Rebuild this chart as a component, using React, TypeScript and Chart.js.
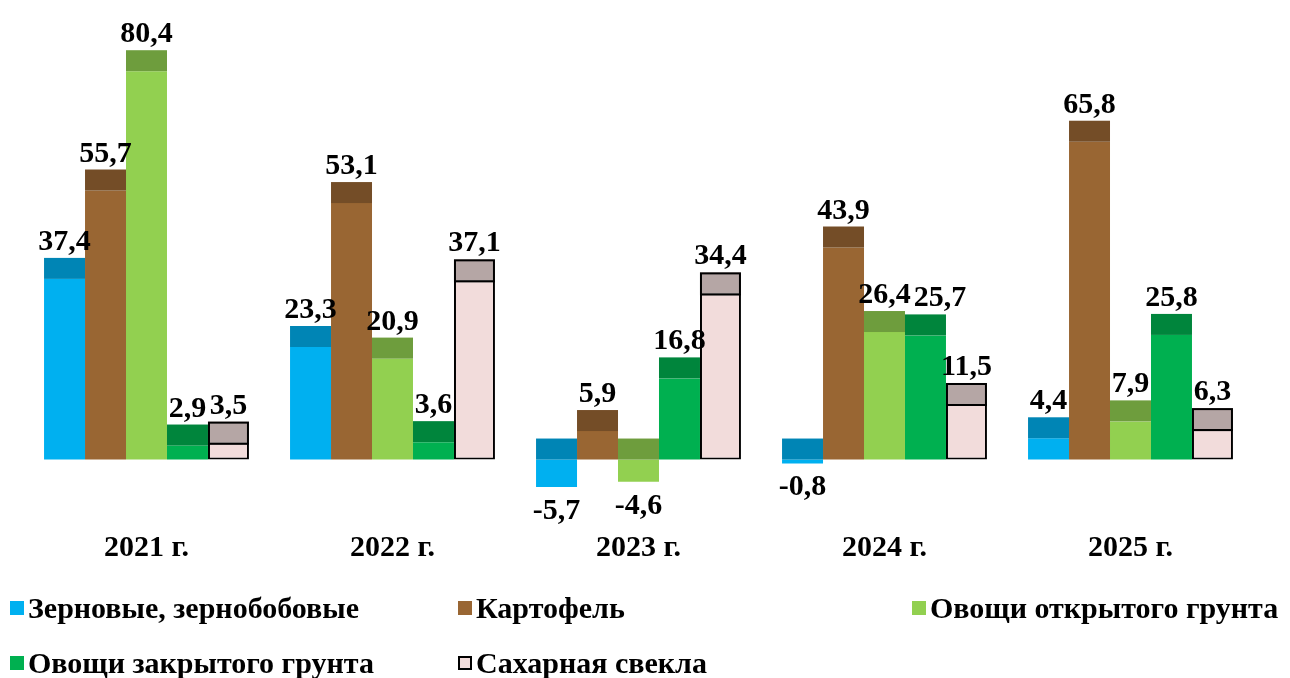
import React, { useEffect, useRef } from "react";
import { Chart, registerables } from "chart.js";

Chart.register(...registerables);

// ---- data ----
const categories = ["2021 г.", "2022 г.", "2023 г.", "2024 г.", "2025 г."];
const seriesNames = [
  "Зерновые, зернобобовые",
  "Картофель",
  "Овощи открытого грунта",
  "Овощи закрытого грунта",
  "Сахарная свекла",
];
const grain = [37.4, 23.3, -5.7, -0.8, 4.4];
const potato = [55.7, 53.1, 5.9, 43.9, 65.8];
const openVeg = [80.4, 20.9, -4.6, 26.4, 7.9];
const closedVeg = [2.9, 3.6, 16.8, 25.7, 25.8];
const sugarBeet = [3.5, 37.1, 34.4, 11.5, 6.3];

// ---- styles ----
const fills = ["#00B0F0", "#996633", "#92D050", "#00B050", "#F2DCDB"];
const capFills = ["#0085B5", "#744D27", "#6E9D3D", "#00853C", "#B5A6A5"];
const outlined = [false, false, false, false, true];
const CAP_PX = 21;
const FONT_FAMILY = "'Liberation Serif', 'Times New Roman', serif";
const LABEL_FONT = `bold 30px ${FONT_FAMILY}`;

const fmt = (v: number) => v.toFixed(1).replace(".", ",");

const capPlugin = {
  id: "capsAndLabels",
  afterDatasetsDraw(chart: any) {
    const ctx = chart.ctx as CanvasRenderingContext2D;
    const nDs = chart.data.datasets.length;
    // caps
    for (let di = 0; di < nDs; di++) {
      const meta = chart.getDatasetMeta(di);
      meta.data.forEach((el: any) => {
        const { x, y, base, width } = el.getProps(["x", "y", "base", "width"], true);
        const top = Math.min(y, base);
        const left = x - width / 2;
        ctx.save();
        ctx.fillStyle = capFills[di];
        ctx.fillRect(left, top - CAP_PX, width, CAP_PX);
        if (outlined[di]) {
          ctx.strokeStyle = "#000";
          ctx.lineWidth = 2;
          ctx.strokeRect(left + 1, top - CAP_PX + 1, width - 2, CAP_PX);
        }
        ctx.restore();
      });
    }
    // labels with simple collision avoidance
    ctx.save();
    ctx.font = LABEL_FONT;
    ctx.fillStyle = "#000";
    ctx.textAlign = "center";
    ctx.textBaseline = "alphabetic";
    const nCat = chart.data.labels.length;
    for (let ci = 0; ci < nCat; ci++) {
      const boxes: { x1: number; x2: number; y1: number; y2: number }[] = [];
      for (let di = 0; di < nDs; di++) {
        const el: any = chart.getDatasetMeta(di).data[ci];
        const v = chart.data.datasets[di].data[ci] as number;
        const { x, y, base } = el.getProps(["x", "y", "base"], true);
        const text = fmt(v);
        const w = ctx.measureText(text).width;
        let cx = x;
        const baseline = v >= 0 ? Math.min(y, base) - CAP_PX - 8 : Math.max(y, base) + 32;
        const y1 = baseline - 21;
        const y2 = baseline + 5;
        let moved = true;
        while (moved) {
          moved = false;
          for (const b of boxes) {
            const x1 = cx - w / 2;
            const x2 = cx + w / 2;
            if (x1 < b.x2 && x2 > b.x1 && y1 < b.y2 && y2 > b.y1) {
              cx = b.x2 + 3 + w / 2;
              moved = true;
            }
          }
        }
        boxes.push({ x1: cx - w / 2, x2: cx + w / 2, y1, y2 });
        ctx.fillText(text, cx, baseline);
      }
    }
    ctx.restore();
  },
};

const seriesData = [grain, potato, openVeg, closedVeg, sugarBeet];

const legendSpots = [
  { left: 10, top: 608 },
  { left: 458, top: 608 },
  { left: 912, top: 608 },
  { left: 10, top: 663 },
  { left: 458, top: 663 },
];

export default function App() {
  const ref = useRef<HTMLCanvasElement | null>(null);

  useEffect(() => {
    if (!ref.current) return;
    const chart = new Chart(ref.current, {
      type: "bar",
      data: {
        labels: categories,
        datasets: seriesData.map((d, i) => ({
          label: seriesNames[i],
          data: d,
          backgroundColor: fills[i],
          borderColor: outlined[i] ? "#000" : fills[i],
          borderWidth: outlined[i] ? 2 : 0,
          borderSkipped: false,
          categoryPercentage: 0.833,
          barPercentage: 1.0,
        })),
      },
      plugins: [capPlugin],
      options: {
        responsive: false,
        animation: false,
        devicePixelRatio: 1,
        layout: { padding: { left: 23.5, right: 36.5, top: 34.5, bottom: 99.5 } },
        plugins: {
          legend: { display: false },
          tooltip: { enabled: false },
        },
        scales: {
          x: {
            grid: { display: false, drawTicks: false },
            border: { display: false },
            ticks: {
              color: "#000",
              font: { family: FONT_FAMILY, size: 30, weight: "bold" },
              padding: 12.5,
            },
          },
          y: {
            display: false,
            min: -12,
            max: 88,
          },
        },
      },
    });
    return () => chart.destroy();
  }, []);

  return (
    <div
      style={{
        position: "absolute",
        left: 0,
        top: 0,
        width: 1290,
        height: 678,
        background: "#fff",
        overflow: "hidden",
      }}
    >
      <canvas ref={ref} width={1290} height={678} style={{ display: "block" }} />
      {seriesNames.map((name, i) => (
        <div
          key={name}
          style={{
            position: "absolute",
            left: legendSpots[i].left,
            top: legendSpots[i].top,
            transform: "translateY(-50%)",
            display: "flex",
            alignItems: "center",
            whiteSpace: "nowrap",
            fontFamily: FONT_FAMILY,
            fontWeight: "bold",
            fontSize: 30,
            color: "#000",
            lineHeight: 1,
          }}
        >
          <span
            style={{
              display: "inline-block",
              width: 14,
              height: 14,
              boxSizing: "border-box",
              background: fills[i],
              border: outlined[i] ? "2px solid #000" : "none",
              marginRight: 4,
            }}
          />
          <span>{name}</span>
        </div>
      ))}
    </div>
  );
}
